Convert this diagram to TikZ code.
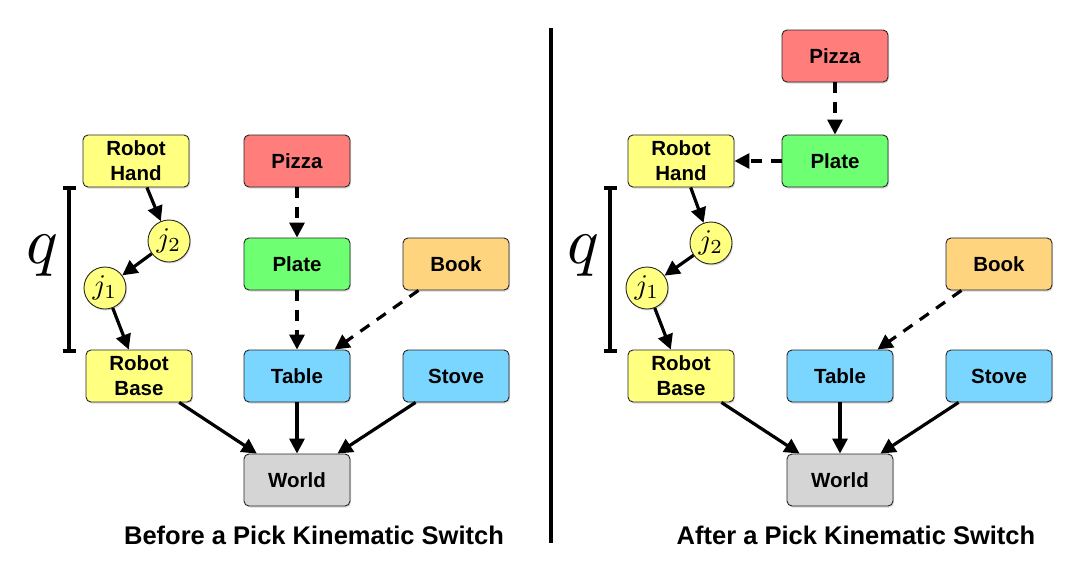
\documentclass[tikz,border=0pt]{standalone}
\usepackage{graphicx}
\usepackage{fontspec}
\setmainfont{Liberation Sans}
\usetikzlibrary{arrows.meta,shadows,calc}
\definecolor{cyel}{HTML}{FFFF80}
\definecolor{cred}{HTML}{FF7D7A}
\definecolor{cgrn}{HTML}{6EFF72}
\definecolor{corg}{HTML}{FFD47F}
\definecolor{cblu}{HTML}{7AD6FF}
\definecolor{cgry}{HTML}{D5D5D5}
\newcommand{\jointlab}[1]{\scalebox{2.85}{$j_{#1}$}}
\newcommand{\qlab}{\scalebox{6.6}{$q$}}
\tikzset{
  box/.style={rectangle, rounded corners=5pt, minimum width=106pt, minimum height=52pt,
    draw=black!85, line width=0.9pt, font=\fontsize{20.5}{25}\selectfont\bfseries, align=center,
    inner sep=0pt, drop shadow={shadow xshift=1pt, shadow yshift=-1.5pt, opacity=0.3}},
  joint/.style={circle, minimum size=42pt, inner sep=0pt, fill=cyel, draw=black!85, line width=0.9pt,
    drop shadow={shadow xshift=1pt, shadow yshift=-1.5pt, opacity=0.3}},
  arr/.style={line width=3.2pt, -{Triangle[length=15pt,width=15pt]}},
  darr/.style={arr, dash pattern=on 11pt off 9pt},
  brk/.style={line width=3.2pt},
  caption/.style={font=\fontsize{25.5}{26}\selectfont\bfseries},
}
\begin{document}
\begin{tikzpicture}[x=1pt,y=-1pt]
\useasboundingbox (0,0) rectangle (1081,576);
% ---------- left panel ----------
\node[box, fill=cyel] (hL) at (136,161) {Robot\\Hand};
\node[box, fill=cred] (pzL) at (297,161) {Pizza};
\node[box, fill=cgrn] (plL) at (297,264) {Plate};
\node[box, fill=corg] (bkL) at (456,264) {Book};
\node[box, fill=cyel] (rbL) at (139,376) {Robot\\Base};
\node[box, fill=cblu] (tbL) at (297,376) {Table};
\node[box, fill=cblu] (stL) at (456,376) {Stove};
\node[box, fill=cgry] (wL) at (297,480) {World};
\node[joint] (j2L) at (169,241) {\jointlab{2}};
\node[joint] (j1L) at (105,288) {\jointlab{1}};
\draw[arr] (hL) -- (j2L);
\draw[arr] (j2L) -- (j1L);
\draw[arr] (j1L) -- (rbL);
\draw[arr] (rbL) -- (wL);
\draw[arr] (tbL) -- (wL);
\draw[arr] (stL) -- (wL);
\draw[darr] (pzL) -- (plL);
\draw[darr] (plL) -- (tbL);
\draw[darr] (bkL) -- (tbL);
\coordinate (qtL) at (69,188);
\coordinate (qbL) at (69,351);
\draw[brk] (qtL) -- (qbL);
\draw[brk] ($(qtL)+(-6.5,0)$) -- ($(qtL)+(6.5,0)$);
\draw[brk] ($(qbL)+(-6.5,0)$) -- ($(qbL)+(6.5,0)$);
\node (qL) at (42,256) {\qlab};
\node[caption] (capL) at (314,535) {Before a Pick Kinematic Switch};
% ---------- divider ----------
\draw[line width=4pt] (551,28) -- (551,543);
% ---------- right panel ----------
\node[box, fill=cyel] (hR) at (681,161) {Robot\\Hand};
\node[box, fill=cred] (pzR) at (835,56) {Pizza};
\node[box, fill=cgrn] (plR) at (835,161) {Plate};
\node[box, fill=corg] (bkR) at (999,264) {Book};
\node[box, fill=cyel] (rbR) at (681,376) {Robot\\Base};
\node[box, fill=cblu] (tbR) at (840,376) {Table};
\node[box, fill=cblu] (stR) at (999,376) {Stove};
\node[box, fill=cgry] (wR) at (840,480) {World};
\node[joint] (j2R) at (711,243) {\jointlab{2}};
\node[joint] (j1R) at (647,288) {\jointlab{1}};
\draw[arr] (hR) -- (j2R);
\draw[arr] (j2R) -- (j1R);
\draw[arr] (j1R) -- (rbR);
\draw[arr] (rbR) -- (wR);
\draw[arr] (tbR) -- (wR);
\draw[arr] (stR) -- (wR);
\draw[darr] (pzR) -- (plR);
\draw[darr] (plR) -- (hR);
\draw[darr] (bkR) -- (tbR);
\coordinate (qtR) at (610,188);
\coordinate (qbR) at (610,351);
\draw[brk] (qtR) -- (qbR);
\draw[brk] ($(qtR)+(-6.5,0)$) -- ($(qtR)+(6.5,0)$);
\draw[brk] ($(qbR)+(-6.5,0)$) -- ($(qbR)+(6.5,0)$);
\node (qR) at (583,256) {\qlab};
\node[caption] (capR) at (856,535) {After a Pick Kinematic Switch};
\end{tikzpicture}
\end{document}
